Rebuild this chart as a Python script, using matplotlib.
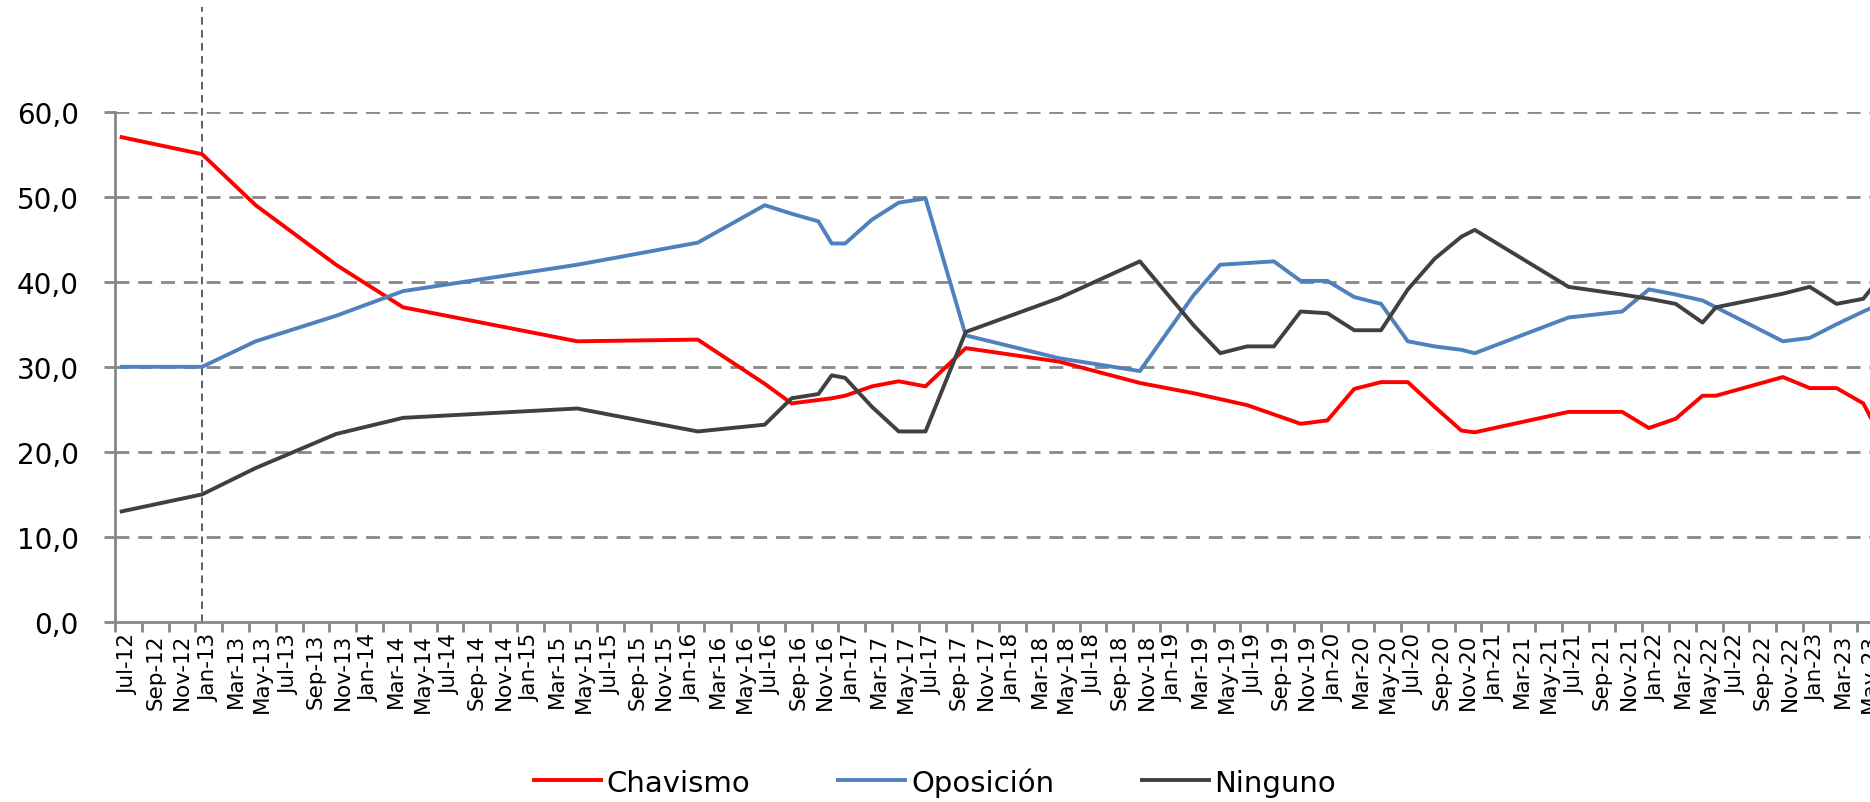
import numpy as np
import pandas as pd
import matplotlib
matplotlib.use("Agg")
import matplotlib.pyplot as plt
import matplotlib.transforms as mtransforms

# survey dates (year-month) and shares per group
fechas = ["2012-07", "2013-01", "2013-05", "2013-11", "2014-04", "2015-05", "2016-02",
          "2016-07", "2016-09", "2016-11", "2016-12", "2017-01", "2017-03", "2017-05",
          "2017-07", "2017-10", "2018-05", "2018-11", "2019-03", "2019-05", "2019-07",
          "2019-09", "2019-11", "2020-01", "2020-03", "2020-05", "2020-07", "2020-09",
          "2020-11", "2020-12", "2021-07", "2021-11", "2022-01", "2022-03", "2022-05",
          "2022-06", "2022-11", "2023-01", "2023-03", "2023-05", "2023-06"]

chavismo = [57.0, 55.0, 49.0, 42.0, 37.0, 33.0, 33.2,
            28.0, 25.7, 26.1, 26.3, 26.6, 27.7, 28.3,
            27.7, 32.2, 30.6, 28.1, 26.9, 26.2, 25.5,
            24.4, 23.3, 23.7, 27.4, 28.2, 28.2, 25.3,
            22.5, 22.3, 24.7, 24.7, 22.8, 23.9, 26.6,
            26.6, 28.8, 27.5, 27.5, 25.7, 22.7]

oposicion = [30.0, 30.0, 33.0, 36.0, 38.9, 42.0, 44.6,
             49.0, 48.0, 47.1, 44.5, 44.5, 47.3, 49.3,
             49.8, 33.7, 31.0, 29.5, 38.4, 42.0, 42.2,
             42.4, 40.1, 40.1, 38.2, 37.4, 33.0, 32.4,
             32.0, 31.6, 35.8, 36.5, 39.1, 38.5, 37.8,
             37.0, 33.0, 33.4, 35.0, 36.5, 37.2]

ninguno = [13.0, 15.0, 18.1, 22.1, 24.0, 25.1, 22.4,
           23.2, 26.3, 26.8, 29.0, 28.7, 25.3, 22.4,
           22.4, 34.1, 38.1, 42.4, 34.9, 31.6, 32.4,
           32.4, 36.5, 36.3, 34.3, 34.3, 39.1, 42.7,
           45.3, 46.1, 39.4, 38.5, 38.0, 37.4, 35.2,
           37.0, 38.6, 39.4, 37.4, 38.0, 40.0]

inicio = "2012-07"
fin_etiquetas = "2023-05"
fecha_marca = "2013-01"   # vertical dashed reference line

rojo = "#ff0000"
azul = "#4f81bd"
gris_osc = "#404040"
gris = "#888888"


def mes(f):
    return (pd.Period(f, freq="M") - pd.Period(inicio, freq="M")).n


x = np.array([mes(f) for f in fechas])

fig = plt.figure(figsize=(18.7, 8.03), dpi=100)
ax = fig.add_axes([0.0615, 0.2242, 0.9385, 0.6355])

ax.plot(x, chavismo, color=rojo, lw=2.8, label="Chavismo")
ax.plot(x, oposicion, color=azul, lw=2.8, label="Oposición")
ax.plot(x, ninguno, color=gris_osc, lw=2.8, label="Ninguno")

# reference line, drawn above the plot area like in the original
trans = mtransforms.blended_transform_factory(ax.transData, ax.transAxes)
ax.plot([mes(fecha_marca)] * 2, [0, 1.205], transform=trans, clip_on=False,
        color="#333333", lw=1.1, dashes=(5, 3.5), zorder=1)

ax.set_ylim(0, 60)
ax.set_xlim(-0.5, mes(fin_etiquetas) + 0.5)
ax.set_yticks(np.arange(0, 61, 10))
ax.set_yticklabels([f"{v:.1f}".replace(".", ",") for v in np.arange(0, 61, 10)],
                   fontsize=20, family="DejaVu Sans")
for v in range(10, 61, 10):
    ax.axhline(v, color=gris, lw=2.0, dashes=(5, 3.2), zorder=0)

n_lab = mes(fin_etiquetas) // 2 + 1
meses_lab = pd.period_range(inicio, periods=n_lab, freq="2M")
ax.set_xticks(np.arange(n_lab) * 2 - 0.5)
ax.set_xticklabels([])
ax.set_xticks(np.arange(n_lab) * 2 + 0.5, minor=True)
ax.set_xticklabels([p.strftime("%b-%y") for p in meses_lab], minor=True,
                   rotation=90, fontsize=15.5, family="DejaVu Sans")
ax.tick_params(axis="x", which="major", length=7, width=2, color=gris, direction="out")
ax.tick_params(axis="x", which="minor", length=0, pad=8)
ax.tick_params(axis="y", length=8, width=2, color=gris, pad=18)

for s in ["top", "right"]:
    ax.spines[s].set_visible(False)
for s in ["left", "bottom"]:
    ax.spines[s].set_color(gris)
    ax.spines[s].set_linewidth(2.0)

fig.legend(loc="center", bbox_to_anchor=(0.5, 0.025), ncol=3, frameon=False,
           prop={"family": "DejaVu Sans", "size": 21},
           handlelength=2.3, handletextpad=0.2, columnspacing=3.0)

fig.savefig("out.png", dpi=100)
